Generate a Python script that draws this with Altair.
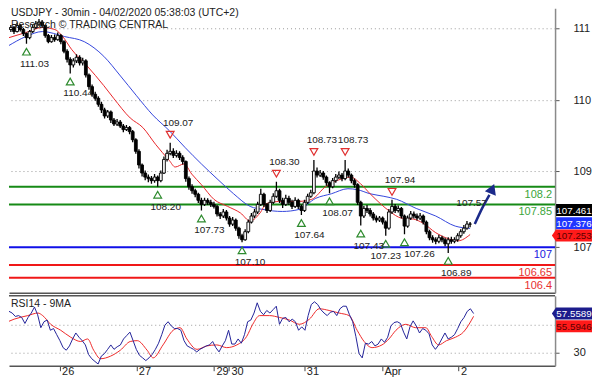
import altair as alt
import pandas as pd

# ---------------- data ----------------
TITLE_1 = "USDJPY - 30min - 04/02/2020 05:38:03 (UTC+2)"
TITLE_2 = "Research \u00a9 TRADING CENTRAL"
RSI_TITLE = "RSI14 - 9MA"

OPEN_FIRST = 111.35
CLOSE = [111.31, 111.35, 111.27, 111.39, 111.31, 111.23, 111.15, 111.27, 111.35, 111.42,
         111.46, 111.39, 111.19, 111.07, 111.15, 111.11, 111.19, 111.07, 110.88, 110.72,
         110.61, 110.69, 110.76, 110.65, 110.69, 110.41, 110.18, 110.03, 109.95, 109.83,
         109.72, 109.60, 109.68, 109.52, 109.44, 109.48, 109.40, 109.33, 109.37, 109.29,
         109.13, 108.90, 108.63, 108.47, 108.39, 108.36, 108.32, 108.39, 108.32, 108.47,
         108.74, 108.86, 108.90, 108.82, 108.86, 108.78, 108.70, 108.36, 108.20, 108.12,
         108.05, 107.93, 107.85, 107.93, 107.89, 107.85, 107.81, 107.66, 107.62, 107.70,
         107.58, 107.46, 107.54, 107.38, 107.23, 107.15, 107.31, 107.50, 107.62, 107.70,
         107.85, 108.05, 107.85, 107.73, 107.89, 108.01, 108.12, 107.93, 107.85, 107.97,
         107.89, 107.81, 107.93, 107.81, 107.73, 107.89, 108.01, 108.08, 108.51, 108.43,
         108.47, 108.39, 108.28, 108.20, 108.32, 108.39, 108.43, 108.36, 108.51, 108.43,
         108.32, 108.24, 107.89, 107.62, 107.77, 107.73, 107.66, 107.58, 107.54, 107.58,
         107.50, 107.38, 107.70, 107.81, 107.73, 107.77, 107.62, 107.42, 107.58, 107.66,
         107.62, 107.58, 107.62, 107.50, 107.31, 107.19, 107.15, 107.12, 107.19, 107.15,
         107.07, 107.15, 107.12, 107.15, 107.23, 107.31, 107.38, 107.46, 107.461]
HIGH = [111.42, 111.40, 111.38, 111.45, 111.42, 111.34, 111.25, 111.30, 111.40, 111.48,
        111.52, 111.50, 111.41, 111.22, 111.20, 111.21, 111.25, 111.22, 111.10, 110.92,
        110.76, 110.74, 110.82, 110.80, 110.75, 110.72, 110.44, 110.22, 110.08, 109.99,
        109.88, 109.76, 109.72, 109.71, 109.56, 109.54, 109.52, 109.44, 109.42, 109.40,
        109.32, 109.16, 108.94, 108.66, 108.52, 108.44, 108.41, 108.45, 108.42, 108.52,
        108.80, 108.93, 109.07, 108.96, 108.92, 108.90, 108.82, 108.72, 108.40, 108.25,
        108.16, 108.08, 107.98, 107.98, 107.97, 107.94, 107.90, 107.84, 107.70, 107.76,
        107.74, 107.62, 107.60, 107.57, 107.41, 107.27, 107.36, 107.55, 107.68, 107.76,
        107.90, 108.16, 108.08, 107.88, 107.94, 108.07, 108.30, 108.16, 107.98, 108.04,
        108.02, 107.94, 107.99, 107.96, 107.85, 107.94, 108.06, 108.14, 108.73, 108.58,
        108.53, 108.51, 108.42, 108.31, 108.37, 108.45, 108.50, 108.47, 108.73, 108.56,
        108.46, 108.36, 108.27, 107.92, 107.82, 107.84, 107.78, 107.70, 107.63, 107.62,
        107.61, 107.53, 107.76, 107.94, 107.86, 107.83, 107.80, 107.65, 107.63, 107.72,
        107.71, 107.67, 107.68, 107.65, 107.53, 107.35, 107.24, 107.20, 107.25, 107.23,
        107.19, 107.20, 107.21, 107.20, 107.28, 107.36, 107.44, 107.52, 107.50]
LOW = [111.24, 111.26, 111.22, 111.25, 111.27, 111.18, 111.03, 111.12, 111.24, 111.32,
       111.38, 111.35, 111.15, 111.04, 111.05, 111.07, 111.09, 111.02, 110.84, 110.66,
       110.44, 110.56, 110.65, 110.60, 110.60, 110.36, 110.12, 109.98, 109.90, 109.78,
       109.66, 109.55, 109.56, 109.46, 109.40, 109.40, 109.36, 109.28, 109.30, 109.24,
       109.08, 108.85, 108.56, 108.40, 108.33, 108.29, 108.26, 108.28, 108.20, 108.29,
       108.45, 108.70, 108.82, 108.77, 108.78, 108.73, 108.64, 108.30, 108.14, 108.06,
       107.99, 107.88, 107.73, 107.82, 107.84, 107.80, 107.77, 107.61, 107.56, 107.58,
       107.53, 107.41, 107.42, 107.33, 107.17, 107.10, 107.13, 107.28, 107.47, 107.58,
       107.66, 107.82, 107.80, 107.68, 107.70, 107.86, 107.98, 107.88, 107.78, 107.82,
       107.84, 107.76, 107.78, 107.76, 107.64, 107.70, 107.86, 107.98, 108.05, 108.38,
       108.39, 108.34, 108.22, 108.07, 108.17, 108.28, 108.35, 108.31, 108.33, 108.38,
       108.27, 108.18, 107.84, 107.43, 107.58, 107.68, 107.61, 107.53, 107.49, 107.50,
       107.45, 107.23, 107.35, 107.66, 107.68, 107.69, 107.57, 107.26, 107.39, 107.54,
       107.57, 107.53, 107.54, 107.45, 107.26, 107.14, 107.09, 107.06, 107.08, 107.10,
       107.02, 106.89, 107.07, 107.08, 107.11, 107.19, 107.27, 107.35, 107.40]

MA_RED_IDX = [0.4, 5.75, 11.1, 15.1, 17.6, 20.4, 25.4, 30.75, 33.9, 39.2, 43.25, 47.3, 51.7,
              53.6, 56.4, 58.9, 62, 66, 70.4, 74.5, 77.6, 80.75, 82.9, 87.9, 93.25, 97.3,
              101.7, 105.75, 109.8, 112.9, 116, 119.2, 122.3, 126, 129.8, 132.9, 137, 141.1,
              144.2, 148]
MA_RED_VAL = [111.15, 111.25, 111.35, 111.31, 111.17, 110.92, 110.59, 110.20, 109.95, 109.56,
              109.37, 109.04, 108.72, 108.59, 108.65, 108.45, 108.24, 107.95, 107.81, 107.68,
              107.52, 107.68, 107.87, 107.91, 107.91, 107.95, 108.20, 108.33, 108.39, 108.26,
              108.06, 107.87, 107.71, 107.58, 107.56, 107.48, 107.29, 107.17, 107.13, 107.253]
MA_BLUE_IDX = [0, 5.75, 11.1, 18.25, 24.5, 30.75, 36.1, 41.1, 46.4, 51.7, 56.7, 62, 67.3,
               72.3, 77.6, 81.7, 87.9, 93.25, 98.6, 103.6, 108.9, 112, 116, 120.4, 124.5,
               130.75, 137, 143.25, 148]
MA_BLUE_VAL = [110.98, 111.17, 111.27, 111.17, 111.07, 110.78, 110.39, 110.01, 109.62, 109.31,
               108.98, 108.65, 108.34, 108.06, 107.81, 107.75, 107.71, 107.75, 107.97, 108.06,
               108.16, 108.14, 108.06, 108.01, 107.95, 107.77, 107.62, 107.42, 107.376]

RSI = [51.8, 56.7, 59.1, 57.9, 55.5, 56.1, 54.8, 50.6, 54.8, 57.9,
       62.1, 56.7, 47.6, 51.8, 53.0, 45.8, 47.0, 42.7, 38.5, 33.6,
       31.8, 34.8, 39.7, 43.9, 40.9, 38.5, 35.5, 28.8, 25.8, 23.9,
       22.1, 27.6, 29.4, 32.4, 35.5, 32.4, 34.2, 35.5, 39.7, 42.1,
       44.5, 38.5, 32.4, 28.2, 26.4, 24.5, 26.4, 28.8, 32.4, 36.7,
       42.7, 49.4, 51.8, 48.8, 47.0, 47.0, 45.8, 38.5, 34.8, 33.6,
       32.4, 30.6, 32.4, 33.6, 34.8, 35.5, 37.9, 33.6, 30.6, 34.8,
       38.5, 45.8, 36.1, 36.1, 39.7, 36.7, 42.7, 51.8, 53.0, 57.9,
       65.1, 59.1, 56.7, 59.7, 57.9, 60.3, 62.7, 50.0, 54.2, 54.8,
       51.8, 53.6, 51.8, 45.8, 48.2, 45.8, 56.1, 63.9, 65.8, 63.9,
       60.3, 57.9, 56.1, 58.5, 59.1, 56.1, 60.9, 62.7, 62.7, 56.7,
       51.8, 41.5, 29.4, 26.4, 36.7, 36.1, 37.9, 34.8, 36.1, 39.7,
       37.3, 40.9, 48.8, 51.2, 51.8, 50.6, 44.5, 39.7, 48.2, 52.4,
       48.8, 43.9, 47.0, 45.8, 43.3, 35.5, 32.4, 35.5, 39.7, 43.9,
       39.7, 40.9, 42.7, 47.0, 51.8, 54.8, 59.1, 60.9, 57.5589]
RSI_MA_IDX = [0, 3.6, 7.9, 11.1, 12.6, 15.1, 18.25, 21.4, 24.5, 26.7, 28.6, 30.75, 33.9, 37,
              40.1, 42.3, 45.4, 47.3, 50.4, 53.6, 55.75, 57.9, 61.1, 64.2, 67.3, 70.4, 73.6,
              76.7, 78.6, 80.75, 83.9, 87, 90.1, 93.25, 96.4, 99.5, 102.6, 105.75, 108.9,
              111.4, 113.6, 116.1, 119.2, 121.4, 123.6, 126.7, 129.8, 133, 134.8, 137, 139.5,
              142.3, 144.8, 148]
RSI_MA_VAL = [50.0, 53.6, 56.1, 57.9, 56.1, 50.0, 45.8, 40.9, 37.9, 39.7, 31.8, 25.8, 27.6,
              31.8, 37.9, 38.5, 31.8, 26.4, 35.5, 45.8, 47.6, 39.7, 32.4, 34.8, 35.5, 33.6,
              35.5, 41.5, 50.0, 56.1, 56.1, 54.8, 53.0, 50.0, 53.6, 60.9, 59.7, 57.9, 56.1,
              45.8, 37.9, 33.6, 35.5, 39.7, 45.8, 50.0, 47.6, 47.6, 41.5, 35.5, 38.5, 40.9,
              44.5, 55.5946]

LEVELS = [108.2, 107.85, 107.0, 106.65, 106.4]
LEVEL_LABELS = ["108.2", "107.85", "107", "106.65", "106.4"]
LEVEL_COLORS = ["#168a16", "#168a16", "#1010e8", "#f01818", "#f01818"]
LEVEL_TEXT_COLORS = ["#3aa53a", "#3aa53a", "#2020e0", "#e83030", "#e83030"]

SUPPORT_IDX = [6, 20, 48, 62, 75, 94, 103, 113, 121, 127, 141]
SUPPORT_VAL = [111.03, 110.44, 108.20, 107.73, 107.10, 107.64, 108.07, 107.43, 107.23, 107.26, 106.89]
SUPPORT_SHIFT = ["mid", "mid", "mid", "mid", "mid", "mid", "mid", "mid", "left", "right", "mid"]
RESIST_IDX = [52, 86, 98, 108, 123]
RESIST_VAL = [109.07, 108.30, 108.73, 108.73, 107.94]

ARROW_IDX = [149.5, 152.0, 154.2]
ARROW_VAL = [107.46, 107.79, 108.04]
ARROW_HEAD_IDX = 155.1
ARROW_HEAD_VAL = 108.16
TARGET_LABEL = "107.57"

PRICE_TICKS = [111.33, 109.91, 108.51, 107.0]
PRICE_TICK_LABELS = ["111", "110", "109", "107"]
RSI_TICKS = [50, 30]
RSI_TICK_LABELS = ["", "30"]
DAY_TICKS = [17.9, 42.0, 66.4, 71.1, 94.8, 119.2, 143.25]
DAY_LABELS = ["26", "27", "29", "30", "31", "Apr", "2"]

LAST_MA_BLUE = MA_BLUE_VAL[-1]
LAST_MA_RED = MA_RED_VAL[-1]
LAST_CLOSE = CLOSE[-1]
LAST_RSI = RSI[-1]
LAST_RSI_MA = RSI_MA_VAL[-1]

# ---------------- layout / style ----------------
W, H1, H2 = 547, 285, 70
FONT = "Liberation Sans"
X_DOMAIN = [2.0, 173.6]
P_DOMAIN = [106.10, 111.73]
R_DOMAIN = [20.9, 70.0]
BOX_W = 36
BX = W + 1 + BOX_W / 2
RECT_PATH = "M -3 -1 L 3 -1 L 3 1 L -3 1 Z"
NOTCH_PATH = "M -3 -1 L 3 -1 L 3 1 L -3 1 L -3.7 0 Z"
SHIFT_DX = {"left": 0, "mid": 8, "right": 15}


def label_expr(values, labels):
    e = ""
    for v, l in zip(values, labels):
        e += f"abs(datum.value - {v}) < 0.001 ? '{l}' : "
    return e + "''"


xs = alt.Scale(domain=X_DOMAIN, nice=False, zero=False)
yp = alt.Scale(domain=P_DOMAIN, nice=False, zero=False)
yr = alt.Scale(domain=R_DOMAIN, nice=False, zero=False)

PRICE_AXIS = alt.Axis(orient="right", values=PRICE_TICKS,
                      labelExpr=label_expr(PRICE_TICKS, PRICE_TICK_LABELS),
                      grid=True, gridDash=[1, 3], gridColor="#9a9a9a",
                      domainColor="#8a8a8a", domainWidth=1.5, tickColor="#555",
                      tickSize=4, labelPadding=14, labelFontSize=11, labelColor="#222",
                      labelFont=FONT, title=None)
RSI_AXIS = alt.Axis(orient="right", values=RSI_TICKS,
                    labelExpr=label_expr(RSI_TICKS, RSI_TICK_LABELS),
                    grid=True, gridDash=[1, 3], gridColor="#9a9a9a",
                    domainColor="#8a8a8a", domainWidth=1.5, tickColor="#555",
                    tickSize=4, labelPadding=14, labelFontSize=11, labelColor="#222",
                    labelFont=FONT, title=None)
X_AXIS_P = alt.Axis(labels=False, ticks=False, grid=False, domain=True,
                    domainColor="#555", domainWidth=1.5, title=None)
X_AXIS_R = alt.Axis(values=DAY_TICKS, labelExpr=label_expr(DAY_TICKS, DAY_LABELS),
                    grid=False, domain=True, domainColor="#555", domainWidth=1.5,
                    ticks=True, tickSize=5, tickColor="#444", labelAlign="left",
                    labelBaseline="top", labelPadding=-5, labelOffset=2,
                    labelFontSize=11, labelColor="#222", labelFont=FONT,
                    labelFontWeight={"condition": {"test": "datum.label == 'Apr'", "value": "bold"},
                                     "value": "normal"},
                    title=None)


def XP(f):
    return alt.X(f, type="quantitative", scale=xs, axis=X_AXIS_P)


def YP(f):
    return alt.Y(f, type="quantitative", scale=yp, axis=PRICE_AXIS)


def XR(f):
    return alt.X(f, type="quantitative", scale=xs, axis=X_AXIS_R)


def YR(f):
    return alt.Y(f, type="quantitative", scale=yr, axis=RSI_AXIS)


# ---------------- price panel ----------------
N = len(CLOSE)
candles = pd.DataFrame({"i": list(range(N)), "open": [OPEN_FIRST] + CLOSE[:-1],
                        "close": CLOSE, "high": HIGH, "low": LOW})
candles["up"] = candles["close"] >= candles["open"]

levels_df = pd.DataFrame({"level": LEVELS, "label": LEVEL_LABELS,
                          "color": LEVEL_COLORS, "tcolor": LEVEL_TEXT_COLORS})
level_rules = alt.Chart(levels_df).mark_rule(strokeWidth=2).encode(
    y=YP("level"), color=alt.Color("color:N", scale=None))
level_text = alt.Chart(levels_df).mark_text(align="right", baseline="top", dy=2,
                                            fontSize=11, font=FONT).encode(
    x=alt.value(W - 3), y=YP("level"), text="label:N",
    color=alt.Color("tcolor:N", scale=None))

ma_red = alt.Chart(pd.DataFrame({"i": MA_RED_IDX, "v": MA_RED_VAL})).mark_line(
    color="#e8262a", strokeWidth=1, clip=True, interpolate="monotone").encode(
    x=XP("i"), y=YP("v"))
ma_blue = alt.Chart(pd.DataFrame({"i": MA_BLUE_IDX, "v": MA_BLUE_VAL})).mark_line(
    color="#3546dc", strokeWidth=1, clip=True, interpolate="monotone").encode(
    x=XP("i"), y=YP("v"))

wicks = alt.Chart(candles).mark_rule(color="black", strokeWidth=1.3, clip=True).encode(
    x=XP("i"), y=YP("low"), y2="high")
bodies = alt.Chart(candles).mark_bar(size=2.8, stroke="black", strokeWidth=0.9,
                                     clip=True).encode(
    x=XP("i"), y=YP("open"), y2="close",
    fill=alt.condition("datum.up", alt.value("#f4f4f4"), alt.value("black")))

sup_df = pd.DataFrame({"i": SUPPORT_IDX, "v": SUPPORT_VAL, "shift": SUPPORT_SHIFT,
                       "label": [f"{v:.2f}" for v in SUPPORT_VAL]})
res_df = pd.DataFrame({"i": RESIST_IDX, "v": RESIST_VAL,
                       "label": [f"{v:.2f}" for v in RESIST_VAL]})
sup_tri = alt.Chart(sup_df).mark_point(shape="triangle-up", filled=False, size=60,
                                       strokeWidth=1.2, color="#2e8b2e", opacity=1,
                                       yOffset=8).encode(x=XP("i"), y=YP("v"))
sup_txt = [alt.Chart(sup_df).transform_filter(f"datum.shift == '{k}'").mark_text(
    dy=20, dx=d, fontSize=10, color="#222", font=FONT).encode(
    x=XP("i"), y=YP("v"), text="label:N") for k, d in SHIFT_DX.items()]
res_tri = alt.Chart(res_df).mark_point(shape="triangle-down", filled=False, size=60,
                                       strokeWidth=1.2, color="#e03030", opacity=1,
                                       yOffset=-8).encode(x=XP("i"), y=YP("v"))
res_txt = alt.Chart(res_df).mark_text(dy=-20, dx=8, fontSize=10, color="#222",
                                      font=FONT).encode(x=XP("i"), y=YP("v"), text="label:N")

arrow_df = pd.DataFrame({"i": ARROW_IDX, "v": ARROW_VAL})
arrow_line = alt.Chart(arrow_df).mark_line(color="#1b2a8a", strokeWidth=2.5,
                                           interpolate="monotone").encode(x=XP("i"), y=YP("v"))
arrow_head = alt.Chart(pd.DataFrame({"i": [ARROW_HEAD_IDX], "v": [ARROW_HEAD_VAL]})).mark_point(
    shape="triangle-up", filled=True, size=140, angle=22, color="#1b2a8a",
    opacity=1).encode(x=XP("i"), y=YP("v"))
target_txt = alt.Chart(pd.DataFrame({"i": [ARROW_IDX[1]], "v": [ARROW_VAL[1]],
                                     "t": [TARGET_LABEL]})).mark_text(
    dx=-11, dy=-4, fontSize=10, color="#222", font=FONT).encode(
    x=XP("i"), y=YP("v"), text="t:N")

title1 = alt.Chart(pd.DataFrame({"t": [TITLE_1]})).mark_text(
    align="left", baseline="top", fontSize=10.5, color="#222", font=FONT).encode(
    x=alt.value(2), y=alt.value(0), text="t:N")
title2 = alt.Chart(pd.DataFrame({"t": [TITLE_2]})).mark_text(
    align="left", baseline="top", fontSize=10.5, color="#222", font=FONT).encode(
    x=alt.value(2), y=alt.value(12), text="t:N")


def value_box(value, digits, fill, tcolor, yoff, notch, yfn):
    df = pd.DataFrame({"v": [value], "t": [f"{value:.{digits}f}"]})
    box = alt.Chart(df).mark_point(shape=NOTCH_PATH if notch else RECT_PATH, filled=True,
                                   size=144, color=fill, opacity=1, strokeWidth=0,
                                   yOffset=yoff).encode(x=alt.value(BX), y=yfn("v"))
    txt = alt.Chart(df).mark_text(fontSize=9.8, color=tcolor, dy=yoff + 0.5, font=FONT,
                                  baseline="middle").encode(
        x=alt.value(BX), y=yfn("v"), text="t:N")
    return [box, txt]


price_boxes = (value_box(LAST_CLOSE, 3, "#000000", "#ffffff", -14, False, YP)
               + value_box(LAST_MA_BLUE, 3, "#1f35ff", "#ffffff", -5, False, YP)
               + value_box(LAST_MA_RED, 3, "#ff1a1a", "#5a0000", 1, True, YP))

price = alt.layer(level_rules, ma_blue, ma_red, wicks, bodies, level_text,
                  sup_tri, *sup_txt, res_tri, res_txt, arrow_line, arrow_head,
                  target_txt, title1, title2, *price_boxes).properties(width=W, height=H1)

# ---------------- RSI panel ----------------
rsi_df = pd.DataFrame({"i": list(range(len(RSI))), "v": RSI})
rsi_line = alt.Chart(rsi_df).mark_line(color="#24249a", strokeWidth=1, clip=True).encode(
    x=XR("i"), y=YR("v"))
rsi_ma = alt.Chart(pd.DataFrame({"i": RSI_MA_IDX, "v": RSI_MA_VAL})).mark_line(
    color="#ee2a2a", strokeWidth=1, clip=True, interpolate="monotone").encode(
    x=XR("i"), y=YR("v"))
rsi_top = alt.Chart(pd.DataFrame({"a": [0]})).mark_rule(color="#555", strokeWidth=1.5).encode(
    y=alt.value(0))
rsi_title = alt.Chart(pd.DataFrame({"t": [RSI_TITLE]})).mark_text(
    align="left", baseline="top", fontSize=10.5, color="#222", font=FONT).encode(
    x=alt.value(2), y=alt.value(3), text="t:N")
rsi_boxes = (value_box(LAST_RSI, 4, "#1c1c8c", "#ffffff", 0, True, YR)
             + value_box(LAST_RSI_MA, 4, "#ff1a1a", "#5a0000", 10, False, YR))

rsi = alt.layer(rsi_top, rsi_ma, rsi_line, rsi_title, *rsi_boxes).properties(width=W, height=H2)

chart = alt.vconcat(price, rsi, spacing=2).properties(
    padding=0, background="white").configure_view(stroke=None)

chart.save("out.html", embed_options={"renderer": "svg", "actions": False})
